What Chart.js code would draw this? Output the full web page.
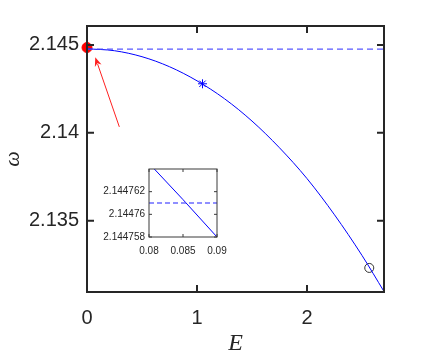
<!DOCTYPE html>
<html>
<head>
<meta charset="utf-8">
<script src="https://cdn.jsdelivr.net/npm/chart.js@4.4.1/dist/chart.umd.min.js"></script>
<style>
html,body{margin:0;padding:0;background:#fff;}
#wrap{position:relative;width:425px;height:360px;}
canvas{position:absolute;left:0;top:0;}
#inset{pointer-events:none;}
</style>
</head>
<body>
<div id="wrap">
<canvas id="main" width="425" height="360"></canvas>
<canvas id="inset" width="425" height="360"></canvas>
</div>
<script>
// ---- main plot data ----
const E = [0, 0.25, 0.5, 0.75, 1.0, 1.25, 1.5, 1.75, 2.0, 2.25, 2.5, 2.7];
const omega = [2.14478, 2.14467, 2.14433, 2.14376, 2.14296, 2.14194, 2.14067, 2.13915, 2.13740, 2.13534, 2.13303, 2.13098];
const dashedLevel = 2.144761;
const dashedE = [0, 2.7];
const starPoint = [1.05, 2.14279];
const circlePoint = [2.566, 2.13232];
const redPoint = [0, 2.14485];
const arrowFrom = [0.294, 2.14034];
const arrowTo = [0.075, 2.14430];
const xTicks = [0, 1, 2];
const yTicks = [2.135, 2.14, 2.145];
const xRange = [0, 2.7];
const yRange = [2.130951, 2.146076];

// ---- inset data ----
const insetE = [0.08, 0.085, 0.09];
const insetOmega = [2.1447645, 2.1447613, 2.144758];
const insetDashedE = [0.08, 0.09];
const insetXTicks = [0.08, 0.085, 0.09];
const insetYTicks = [2.144758, 2.14476, 2.144762];
const insetXRange = [0.08, 0.09];
const insetYRange = [2.144758, 2.144764];

const AX = '#262626';

const framePlugin = {
  id: 'frame',
  afterDraw(chart, args, opts) {
    const ctx = chart.ctx, a = chart.chartArea;
    const xs = chart.scales.x, ys = chart.scales.y;
    ctx.save();
    ctx.strokeStyle = opts.color;
    ctx.lineWidth = opts.lineWidth;
    ctx.beginPath();
    xs.ticks.forEach(t => {
      const px = xs.getPixelForValue(t.value);
      ctx.moveTo(px, a.bottom); ctx.lineTo(px, a.bottom - opts.tickLen);
      ctx.moveTo(px, a.top); ctx.lineTo(px, a.top + opts.tickLen);
    });
    ys.ticks.forEach(t => {
      const py = ys.getPixelForValue(t.value);
      ctx.moveTo(a.left, py); ctx.lineTo(a.left + opts.tickLen, py);
      ctx.moveTo(a.right, py); ctx.lineTo(a.right - opts.tickLen, py);
    });
    ctx.stroke();
    ctx.strokeRect(a.left, a.top, a.right - a.left, a.bottom - a.top);
    ctx.restore();
  }
};

const arrowPlugin = {
  id: 'arrow',
  afterDatasetsDraw(chart, args, opts) {
    if (!opts.from) return;
    const xs = chart.scales.x, ys = chart.scales.y, ctx = chart.ctx;
    const x1 = xs.getPixelForValue(opts.from[0]), y1 = ys.getPixelForValue(opts.from[1]);
    const x2 = xs.getPixelForValue(opts.to[0]), y2 = ys.getPixelForValue(opts.to[1]);
    const ang = Math.atan2(y2 - y1, x2 - x1);
    const L = 9, W = 3.5;
    ctx.save();
    ctx.strokeStyle = opts.color; ctx.fillStyle = opts.color; ctx.lineWidth = 1;
    ctx.beginPath();
    ctx.moveTo(x1, y1);
    ctx.lineTo(x2 - Math.cos(ang) * L * 0.8, y2 - Math.sin(ang) * L * 0.8);
    ctx.stroke();
    ctx.beginPath();
    ctx.moveTo(x2, y2);
    const bx = x2 - Math.cos(ang) * L, by = y2 - Math.sin(ang) * L;
    ctx.lineTo(bx + Math.sin(ang) * W, by - Math.cos(ang) * W);
    ctx.lineTo(x2 - Math.cos(ang) * L * 0.7, y2 - Math.sin(ang) * L * 0.7);
    ctx.lineTo(bx - Math.sin(ang) * W, by + Math.cos(ang) * W);
    ctx.closePath();
    ctx.fill();
    ctx.restore();
  }
};

function fixedTicks(arr) {
  return function(scale) { scale.ticks = arr.map(v => ({ value: v })); };
}

new Chart(document.getElementById('main'), {
  type: 'scatter',
  data: {
    datasets: [
      { data: dashedE.map(x => ({ x: x, y: dashedLevel })), showLine: true, borderColor: 'rgba(70,70,255,0.9)', borderWidth: 1.2, borderDash: [6, 4], pointRadius: 0 },
      { data: E.map((x, i) => ({ x: x, y: omega[i] })), showLine: true, borderColor: '#0000ff', borderWidth: 1, cubicInterpolationMode: 'monotone', pointRadius: 0 },
      { data: [{ x: starPoint[0], y: starPoint[1] }], pointStyle: 'star', pointRadius: 4.5, borderColor: '#0000ff', backgroundColor: '#0000ff', borderWidth: 1 },
      { data: [{ x: circlePoint[0], y: circlePoint[1] }], pointStyle: 'circle', pointRadius: 4.5, borderColor: '#333', backgroundColor: 'rgba(0,0,0,0)', borderWidth: 1 },
      { data: [{ x: redPoint[0], y: redPoint[1] }], pointStyle: 'circle', pointRadius: 5, borderColor: '#ff0000', backgroundColor: '#ff0000', borderWidth: 1, clip: false }
    ]
  },
  options: {
    responsive: false, animation: false, devicePixelRatio: 1,
    layout: { padding: { top: 26, right: 41, left: 0, bottom: 0 } },
    plugins: {
      legend: { display: false }, tooltip: { enabled: false },
      frame: { color: AX, lineWidth: 2, tickLen: 7 },
      arrow: { from: arrowFrom, to: arrowTo, color: '#ff2020' }
    },
    scales: {
      x: {
        type: 'linear', min: xRange[0], max: xRange[1],
        afterBuildTicks: fixedTicks(xTicks),
        afterFit(s) { s.height = 68; },
        grid: { display: false, drawTicks: false },
        border: { display: false },
        ticks: { color: AX, padding: 14, font: { family: 'Liberation Sans', size: 20 }, callback: v => String(v), maxRotation: 0 },
        title: { display: true, text: 'E', color: AX, padding: { top: 0, bottom: 2 }, font: { family: 'Liberation Serif', style: 'italic', size: 24 } }
      },
      y: {
        type: 'linear', min: yRange[0], max: yRange[1],
        afterBuildTicks: fixedTicks(yTicks),
        afterFit(s) { s.width = 87; },
        grid: { display: false, drawTicks: false },
        border: { display: false },
        ticks: { color: AX, padding: 8, font: { family: 'Liberation Sans', size: 20 }, callback: v => String(v) },
        title: { display: true, text: 'ω', color: AX, padding: { top: 0, bottom: 0 }, font: { family: 'Liberation Serif', style: 'italic', size: 22 } }
      }
    }
  },
  plugins: [framePlugin, arrowPlugin]
});

new Chart(document.getElementById('inset'), {
  type: 'scatter',
  data: {
    datasets: [
      { data: insetDashedE.map(x => ({ x: x, y: 2.144761 })), showLine: true, borderColor: 'rgba(80,80,255,0.85)', borderWidth: 1.5, borderDash: [5, 3], pointRadius: 0 },
      { data: insetE.map((x, i) => ({ x: x, y: insetOmega[i] })), showLine: true, borderColor: '#0000ff', borderWidth: 1, pointRadius: 0 }
    ]
  },
  options: {
    responsive: false, animation: false, devicePixelRatio: 1,
    layout: { padding: { top: 169, right: 208, left: 0, bottom: 0 } },
    plugins: {
      legend: { display: false }, tooltip: { enabled: false },
      frame: { color: '#3a3a3a', lineWidth: 1, tickLen: 3 }
    },
    scales: {
      x: {
        type: 'linear', min: insetXRange[0], max: insetXRange[1],
        afterBuildTicks: fixedTicks(insetXTicks),
        afterFit(s) { s.height = 123; },
        grid: { display: false, drawTicks: false },
        border: { display: false },
        ticks: { color: AX, padding: 8, font: { family: 'Liberation Sans', size: 10 }, callback: v => String(v), maxRotation: 0, autoSkip: false }
      },
      y: {
        type: 'linear', min: insetYRange[0], max: insetYRange[1],
        afterBuildTicks: fixedTicks(insetYTicks),
        afterFit(s) { s.width = 149; },
        grid: { display: false, drawTicks: false },
        border: { display: false },
        ticks: { color: AX, padding: 4, font: { family: 'Liberation Sans', size: 10 }, callback: v => String(v), autoSkip: false }
      }
    }
  },
  plugins: [framePlugin]
});
</script>
</body>
</html>
